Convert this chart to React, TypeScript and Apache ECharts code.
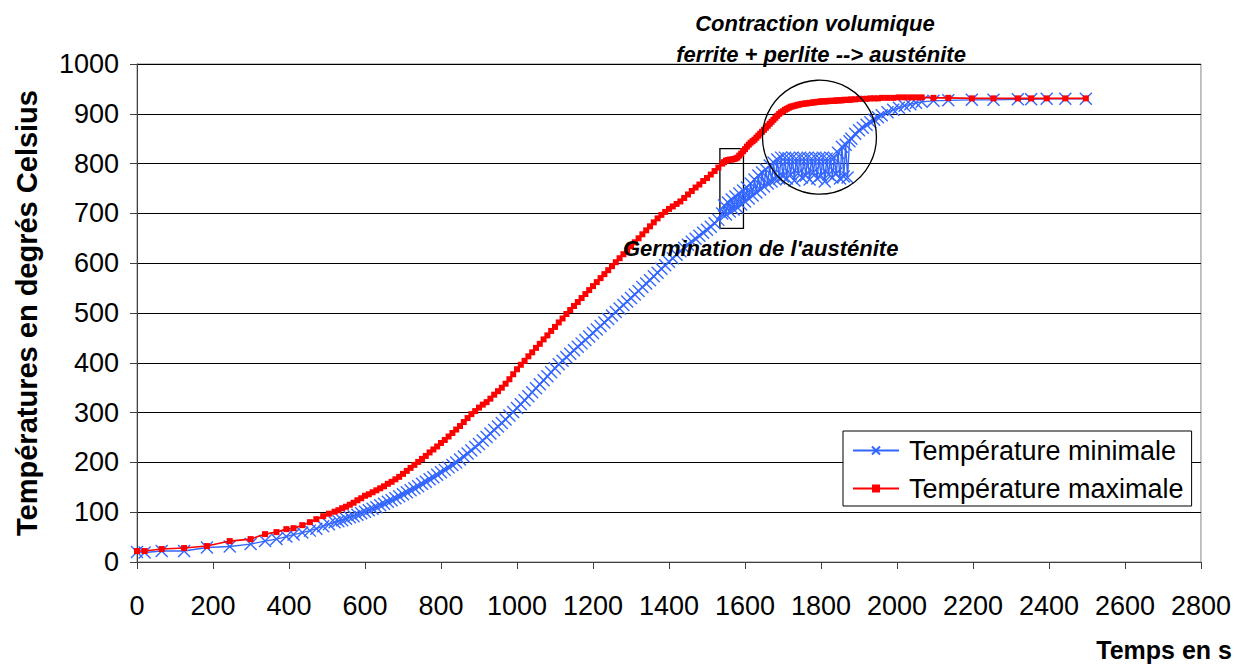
import React, { useEffect, useRef } from "react";
import * as echarts from "echarts";

const FONT = "'Liberation Sans', Arial, sans-serif";

// time stamps (s)
const timeS = [
  0, 20, 65, 124, 184, 244, 299, 337, 367, 393, 412, 435, 455, 472, 490, 505, 520,
  530, 540, 550, 560, 570, 580, 590, 600, 610, 620,
  630, 640, 650, 660, 670, 680, 690, 700, 710, 720,
  730, 740, 750, 760, 770, 780, 790, 800, 810, 820,
  830, 840, 850, 860, 870, 880, 890, 900, 910, 920,
  930, 940, 950, 960, 970, 980, 990, 1000, 1010, 1020,
  1030, 1040, 1050, 1060, 1070, 1080, 1090, 1100, 1110, 1120,
  1130, 1140, 1150, 1160, 1170, 1180, 1190, 1200, 1210, 1220,
  1230, 1240, 1250, 1260, 1270, 1280, 1290, 1300, 1310, 1320,
  1330, 1340, 1350, 1360, 1370, 1380, 1390, 1400, 1410, 1420,
  1430, 1440, 1450, 1460, 1470, 1480, 1490, 1500, 1510, 1520,
  1530,
  1540, 1545, 1550, 1555, 1560, 1565, 1570, 1575, 1580, 1585,
  1590, 1595, 1600, 1605, 1610, 1615, 1620, 1625, 1630, 1635,
  1640, 1645, 1650, 1655, 1660, 1665, 1670, 1675, 1680, 1685,
  1690, 1695, 1700, 1705, 1710, 1715, 1720, 1725, 1730, 1735,
  1740, 1745, 1750, 1755, 1760, 1765, 1770, 1775, 1780, 1785,
  1790, 1795, 1800, 1805, 1810, 1815, 1820, 1825, 1830, 1835,
  1840, 1845, 1850, 1855, 1860, 1865, 1870, 1875, 1880,
  1890, 1900, 1910, 1920, 1930, 1940, 1950, 1960,
  1975, 1990, 2005, 2020, 2035, 2050, 2065, 2096, 2135, 2197, 2254, 2318, 2353, 2394, 2443, 2497,
];

// Température minimale (°C)
const tempMin = [
  20, 19, 22, 22, 29, 31, 36, 42, 46, 51, 55, 59, 63, 67, 72, 76, 80,
  82, 84, 87, 90, 92, 95, 98, 101, 104, 107,
  110, 114, 117, 121, 124, 128, 132, 136, 140, 144,
  148, 152, 157, 161, 166, 170, 175, 180, 185, 190,
  195, 200, 206, 212, 218, 224, 231, 237, 244, 251,
  258, 265, 272, 279, 286, 294, 301, 309, 317, 325,
  333, 341, 349, 357, 365, 373, 381, 389, 397, 404,
  411, 418, 425, 432, 439, 446, 453, 460, 467, 474,
  481, 488, 495, 502, 509, 516, 523, 530, 537, 544,
  552, 559, 566, 574, 581, 589, 596, 603, 610, 617,
  624, 631, 637, 643, 649, 655, 661, 667, 673, 680,
  687,
  700, 716, 698, 722, 704, 728, 708, 734, 712, 740,
  718, 746, 724, 752, 730, 760, 736, 768, 742, 776,
  748, 782, 754, 788, 760, 796, 764, 802, 768, 808,
  770, 812, 774, 812, 770, 811, 778, 812, 766, 810,
  780, 812, 772, 811, 776, 812, 768, 810, 782, 812,
  770, 811, 776, 812, 764, 810, 778, 812, 772, 811,
  780, 822, 770, 834, 774, 838, 772, 845, 850,
  860, 867, 872, 878, 883, 888, 893, 897,
  903, 908, 912, 916, 919, 922, 924, 926, 927, 928, 928, 929, 929, 930, 930, 930,
];

// Température maximale (°C)
const tempMax = [
  22, 22, 26, 28, 32, 42, 46, 56, 60, 66, 68, 74, 80, 86, 92, 97, 101,
  104, 108, 111, 115, 119, 124, 128, 133, 136, 140,
  144, 148, 152, 157, 161, 166, 171, 177, 183, 189,
  195, 201, 207, 213, 220, 226, 232, 239, 245, 252,
  259, 266, 273, 281, 289, 297, 303, 310, 316, 321,
  328, 336, 343, 350, 358, 367, 377, 387, 396, 404,
  413, 421, 430, 438, 447, 455, 464, 472, 481, 489,
  498, 506, 514, 522, 530, 538, 546, 554, 562, 570,
  578, 586, 594, 602, 610, 618, 626, 634, 642, 650,
  658, 666, 674, 682, 690, 697, 703, 709, 714, 719,
  724, 731, 738, 745, 752, 758, 765, 771, 778, 785,
  792,
  800, 803, 806, 807, 808, 808, 809, 810, 812, 816,
  820, 825, 829, 834, 838, 842, 845, 848, 852, 856,
  860, 864, 868, 872, 876, 880, 884, 888, 892, 896,
  900, 903, 905, 908, 910, 912, 914, 915, 916, 917,
  918, 919, 920, 920, 921, 921, 922, 922, 923, 923,
  924, 924, 925, 925, 925, 925, 926, 926, 926, 926,
  927, 927, 927, 927, 928, 928, 928, 928, 929,
  929, 930, 930, 930, 931, 931, 931, 932,
  932, 932, 933, 933, 933, 933, 933, 932, 932, 931, 931, 931, 931, 931, 931, 931,
];

const seriesNames = ["Température minimale", "Température maximale"];
const yTicks = { min: 0, max: 1000, interval: 100 };
const xTicks = { min: 0, max: 2800, interval: 200 };

// annotation anchors in data units
const germBox = [[1534, 670], [1596, 830]];
const contractionCircle = { t: 1796, T: 853 };

const BLUE = "#3366ff";
const RED = "#ff0000";

export default function App() {
  const ref = useRef<HTMLDivElement>(null);
  useEffect(() => {
    if (!ref.current) return;
    const chart = echarts.init(ref.current, null, { renderer: "svg" });
    const minData = timeS.map((t, i) => [t, tempMin[i]]);
    const maxData = timeS.map((t, i) => [t, tempMax[i]]);
    const option: any = {
      animation: false,
      backgroundColor: "#fff",
      textStyle: { fontFamily: FONT },
      grid: {
        left: 137,
        right: 33,
        top: 64,
        bottom: 102,
        show: true,
        borderColor: "#888",
        borderWidth: 1,
        backgroundColor: "#fff",
      },
      legend: {
        orient: "vertical",
        left: 843,
        top: 431,
        padding: [6, 8, 4, 9],
        itemGap: 11,
        itemWidth: 46,
        itemHeight: 10,
        backgroundColor: "#fff",
        borderColor: "#000",
        borderWidth: 1,
        textStyle: { fontFamily: FONT, fontSize: 27, color: "#000", padding: [0, 0, 0, 5] },
        data: seriesNames,
      },
      xAxis: {
        type: "value",
        min: xTicks.min,
        max: xTicks.max,
        interval: xTicks.interval,
        axisLine: { show: true, lineStyle: { color: "#404040", width: 1 } },
        axisTick: { show: true, length: 7, lineStyle: { color: "#404040" } },
        axisLabel: { fontFamily: FONT, fontSize: 27, color: "#000", margin: 30, formatter: (v: number) => String(v) },
        splitLine: { show: false },
      },
      yAxis: {
        type: "value",
        min: yTicks.min,
        max: yTicks.max,
        interval: yTicks.interval,
        axisLine: { show: true, lineStyle: { color: "#404040", width: 1 } },
        axisTick: { show: true, length: 7, lineStyle: { color: "#404040" } },
        axisLabel: { fontFamily: FONT, fontSize: 27, color: "#000", margin: 18, formatter: (v: number) => String(v) },
        splitLine: { show: true, lineStyle: { color: "#000", width: 1 } },
      },
      series: [
        {
          name: seriesNames[0],
          type: "line",
          data: minData,
          color: BLUE,
          symbol: "path://M0,0L10,10M10,0L0,10",
          symbolSize: 12,
          showSymbol: true,
          lineStyle: { color: BLUE, width: 1.4 },
          itemStyle: { color: BLUE, borderColor: BLUE, borderWidth: 1.4 },
          z: 2,
        },
        {
          name: seriesNames[1],
          type: "line",
          data: maxData,
          color: RED,
          symbol: "rect",
          symbolSize: 6,
          showSymbol: true,
          lineStyle: { color: RED, width: 1.6 },
          itemStyle: { color: RED },
          z: 3,
          markArea: {
            silent: true,
            label: { show: false },
            itemStyle: { color: "rgba(0,0,0,0)", borderColor: "#000", borderWidth: 1.3 },
            data: [[{ xAxis: germBox[0][0], yAxis: germBox[0][1] }, { xAxis: germBox[1][0], yAxis: germBox[1][1] }]],
          },
        },
      ],
    };
    chart.setOption(option);
    const c = chart.convertToPixel({ gridIndex: 0 }, [contractionCircle.t, contractionCircle.T]) as number[];
    const annot = { fontFamily: FONT, fontSize: 22, fontWeight: "bold", fontStyle: "italic", fill: "#000" };
    chart.setOption({
      graphic: [
        {
          type: "circle",
          shape: { cx: c[0], cy: c[1], r: 57 },
          style: { fill: "none", stroke: "#000", lineWidth: 1.3 },
          z: 10,
        },
        {
          type: "text",
          x: 815,
          y: 23,
          style: { ...annot, text: "Contraction volumique", textAlign: "center", textVerticalAlign: "middle" },
          z: 10,
        },
        {
          type: "text",
          x: 821,
          y: 54,
          style: { ...annot, text: "ferrite + perlite --> austénite", textAlign: "center", textVerticalAlign: "middle" },
          z: 10,
        },
        {
          type: "text",
          x: 623,
          y: 248,
          style: { ...annot, text: "Germination de l'austénite", textAlign: "left", textVerticalAlign: "middle" },
          z: 10,
        },
        {
          type: "text",
          x: 1232,
          y: 650,
          style: { fontFamily: FONT, fontSize: 25, fontWeight: "bold", fill: "#000", text: "Temps en s", textAlign: "right", textVerticalAlign: "middle" },
        },
        {
          type: "text",
          x: 27,
          y: 313,
          rotation: Math.PI / 2,
          style: { fontFamily: FONT, fontSize: 29, fontWeight: "bold", fill: "#000", text: "Températures en degrés Celsius", textAlign: "center", textVerticalAlign: "middle" },
        },
      ],
    });
    return () => chart.dispose();
  }, []);
  return <div ref={ref} style={{ position: "fixed", left: 0, top: 0, width: 1234, height: 664, background: "#fff" }} />;
}
